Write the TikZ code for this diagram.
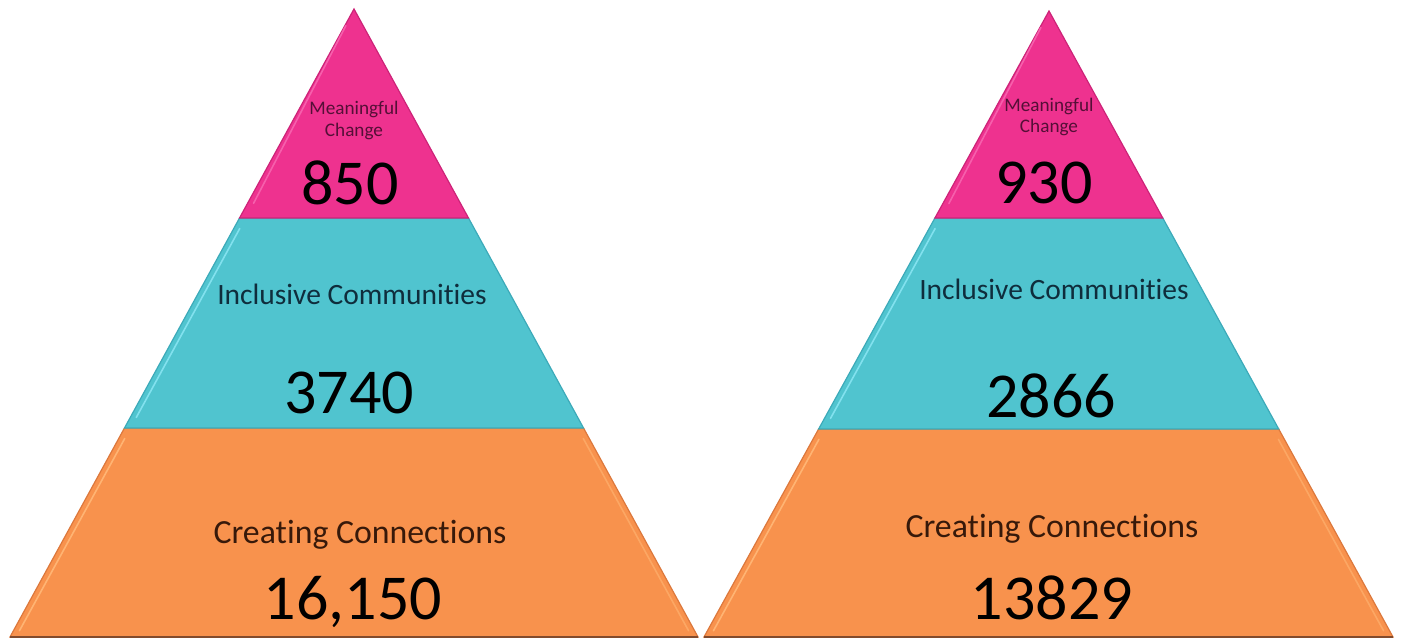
\documentclass[tikz,border=0pt]{standalone}
\usepackage{fontspec}
\setmainfont[Ligatures=NoCommon]{Carlito}
\usetikzlibrary{calc}
\definecolor{pinkfill}{RGB}{238,50,143}
\definecolor{pinkedge}{RGB}{205,35,120}
\definecolor{pinklight}{RGB}{246,95,172}
\definecolor{cyanfill}{RGB}{80,196,207}
\definecolor{cyanedge}{RGB}{60,170,185}
\definecolor{cyanlight}{RGB}{130,225,238}
\definecolor{orangefill}{RGB}{248,146,77}
\definecolor{orangeedge}{RGB}{220,120,60}
\definecolor{orangelight}{RGB}{255,180,115}
\definecolor{basebrown}{RGB}{130,75,45}
\definecolor{pinktext}{RGB}{85,15,55}
\definecolor{cyantext}{RGB}{15,45,60}
\definecolor{orangetext}{RGB}{55,25,10}
\tikzset{
  tier/.style={line width=1.2pt, line join=miter},
  hilite/.style={line width=1.6pt, line cap=round},
  smalllbl/.style={inner sep=0pt, anchor=base, text=pinktext, font=\fontsize{19.2}{22}\selectfont},
  midlbl/.style={inner sep=0pt, anchor=base, font=\fontsize{29.5}{34}\selectfont},
  bottomlbl/.style={inner sep=0pt, anchor=base, text=orangetext, font=\fontsize{33.8}{38}\selectfont},
  numlbl/.style={inner sep=0pt, anchor=base, text=black, font=\fontsize{64}{72}\selectfont},
}
\begin{document}
\begin{tikzpicture}[x=1pt,y=-1pt]
\useasboundingbox (0,0) rectangle (1401,639);
% ---------- left pyramid ----------
\coordinate (LA) at (354,9);
\coordinate (LL) at (10,637);
\coordinate (LR) at (698,637);
\coordinate (L1l) at ($(LA)!0.3328!(LL)$);
\coordinate (L1r) at ($(LA)!0.3328!(LR)$);
\coordinate (L2l) at ($(LA)!0.6672!(LL)$);
\coordinate (L2r) at ($(LA)!0.6672!(LR)$);
\filldraw[tier, fill=orangefill, draw=orangeedge] (L2l) -- (L2r) -- (LR) -- (LL) -- cycle;
\filldraw[tier, fill=cyanfill, draw=cyanedge] (L1l) -- (L1r) -- (L2r) -- (L2l) -- cycle;
\filldraw[tier, fill=pinkfill, draw=pinkedge] (LA) -- (L1r) -- (L1l) -- cycle;
\draw[hilite, pinklight] ($(LA)!0.08!(L1l)+(1,0)$) -- ($(LA)!0.93!(L1l)+(6,0)$);
\draw[hilite, cyanlight] ($(L1l)!0.05!(L2l)+(6,0)$) -- ($(L1l)!0.95!(L2l)+(6,0)$);
\draw[hilite, orangelight] ($(L2l)!0.05!(LL)+(6,0)$) -- ($(L2l)!0.97!(LL)+(6,0)$);
\draw[hilite, orangelight!60!orangefill] ($(L2r)!0.05!(LR)+(-6,0)$) -- ($(L2r)!0.97!(LR)+(-6,0)$);
\draw[line width=2pt, basebrown] (LL) -- (LR);
% ---------- right pyramid ----------
\coordinate (RA) at (1049,11);
\coordinate (RL) at (704,637);
\coordinate (RR) at (1393,637);
\coordinate (R1l) at ($(RA)!0.3307!(RL)$);
\coordinate (R1r) at ($(RA)!0.3307!(RR)$);
\coordinate (R2l) at ($(RA)!0.6677!(RL)$);
\coordinate (R2r) at ($(RA)!0.6677!(RR)$);
\filldraw[tier, fill=orangefill, draw=orangeedge] (R2l) -- (R2r) -- (RR) -- (RL) -- cycle;
\filldraw[tier, fill=cyanfill, draw=cyanedge] (R1l) -- (R1r) -- (R2r) -- (R2l) -- cycle;
\filldraw[tier, fill=pinkfill, draw=pinkedge] (RA) -- (R1r) -- (R1l) -- cycle;
\draw[hilite, pinklight] ($(RA)!0.08!(R1l)+(1,0)$) -- ($(RA)!0.93!(R1l)+(6,0)$);
\draw[hilite, cyanlight] ($(R1l)!0.05!(R2l)+(6,0)$) -- ($(R1l)!0.95!(R2l)+(6,0)$);
\draw[hilite, orangelight] ($(R2l)!0.05!(RL)+(6,0)$) -- ($(R2l)!0.97!(RL)+(6,0)$);
\draw[hilite, orangelight!60!orangefill] ($(R2r)!0.05!(RR)+(-6,0)$) -- ($(R2r)!0.97!(RR)+(-6,0)$);
\draw[line width=2pt, basebrown] (RL) -- (RR);
% ---------- left labels ----------
\node[smalllbl] (lmc1) at (354,115) {Meaningful};
\node[smalllbl] (lmc2) at (354,137) {Change};
\node[numlbl] (lmcn) at (350,205) {850};
\node[midlbl, text=cyantext] (lic) at (352,305) {Inclusive Communities};
\node[numlbl] (licn) at (349,413) {3740};
\node[bottomlbl] (lcc) at (360,543) {Creating Connections};
\node[numlbl] (lccn) at (353,619) {16,150};
% ---------- right labels ----------
\node[smalllbl] (rmc1) at (1049,112) {Meaningful};
\node[smalllbl] (rmc2) at (1049,133) {Change};
\node[numlbl] (rmcn) at (1044,204) {930};
\node[midlbl, text=cyantext] (ric) at (1054,300) {Inclusive Communities};
\node[numlbl] (ricn) at (1051,417) {2866};
\node[bottomlbl] (rcc) at (1052,537) {Creating Connections};
\node[numlbl] (rccn) at (1052,619) {13829};
\end{tikzpicture}
\end{document}
